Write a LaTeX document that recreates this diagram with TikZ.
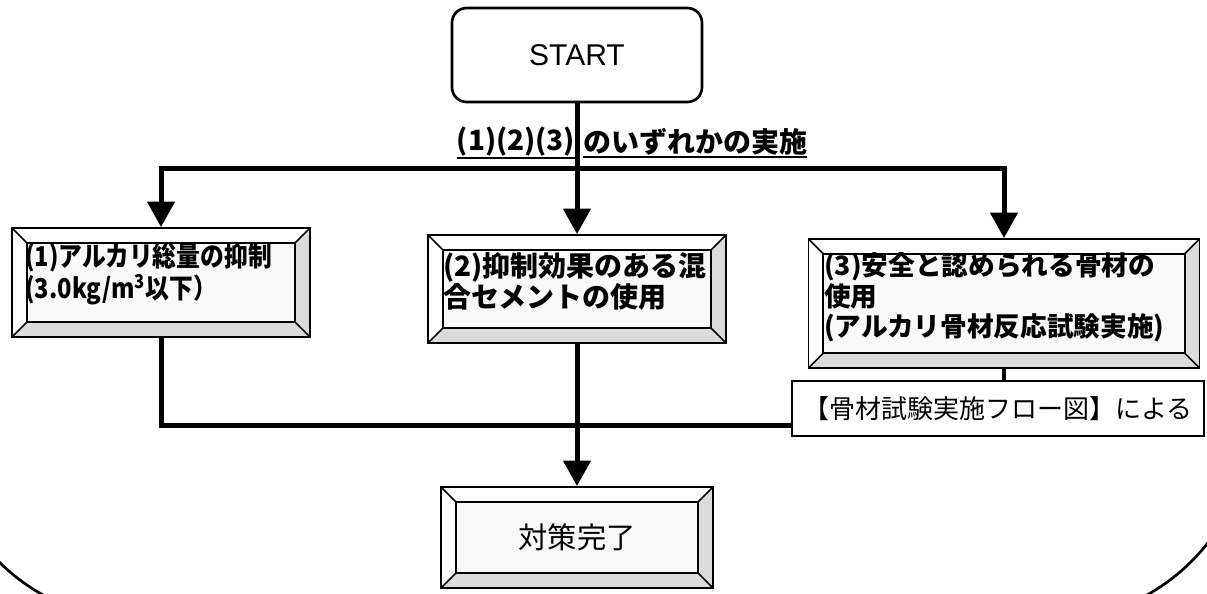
\documentclass[tikz,border=0pt]{standalone}
\usepackage{fontspec}
\setmainfont{Liberation Sans}
\newfontfamily\jp{Noto Sans CJK JP}
\newfontfamily\jpc{Noto Sans CJK JP}[FakeStretch=0.87]
\usetikzlibrary{arrows.meta,calc}
\tikzset{
  conn/.style={line width=3.75pt},
  arr/.style={conn, -{Triangle[width=20pt,length=19pt]}},
  startbox/.style={draw, rounded corners=11pt, line width=2pt, fill=white,
    minimum width=187.5pt, minimum height=70.5pt,
    font=\fontsize{22.5}{24}\selectfont},
  bevel/.style={draw, line width=1.4pt, fill=white, inner sep=0pt,
    path picture={
      \fill[gray!28] (path picture bounding box.south west) -- (path picture bounding box.south east)
        -- ([shift={(-11pt,11pt)}]path picture bounding box.south east)
        -- ([shift={(11pt,11pt)}]path picture bounding box.south west) -- cycle;
      \fill[gray!28] (path picture bounding box.south east) -- (path picture bounding box.north east)
        -- ([shift={(-11pt,-11pt)}]path picture bounding box.north east)
        -- ([shift={(-11pt,11pt)}]path picture bounding box.south east) -- cycle;
      \draw[line width=1.4pt, fill=gray!5] ([shift={(11pt,11pt)}]path picture bounding box.south west)
        rectangle ([shift={(-11pt,-11pt)}]path picture bounding box.north east);
      \draw[line width=1.1pt] (path picture bounding box.south west) -- ++(11pt,11pt);
      \draw[line width=1.1pt] (path picture bounding box.south east) -- ++(-11pt,11pt);
      \draw[line width=1.1pt] (path picture bounding box.north west) -- ++(11pt,-11pt);
      \draw[line width=1.1pt] (path picture bounding box.north east) -- ++(-11pt,-11pt);
    }},
  jptext/.style={font=\jp\bfseries\fontsize{21}{23}\selectfont, align=left, inner sep=0pt, anchor=west},
  lbl/.style={font=\jp\bfseries\fontsize{21}{24}\selectfont, inner sep=0pt},
  labbox/.style={draw, line width=1.4pt, fill=white, minimum width=309pt, minimum height=41.25pt,
    font=\jp\fontsize{19.5}{22}\selectfont},
  uline/.style={line width=1.3pt}
}
\begin{document}
\begin{tikzpicture}[x=0.75pt, y=-0.75pt]
\useasboundingbox (0,0) rectangle (1207,593);
% outer frame (mostly outside the page)
\begin{scope}
  \clip (0,0) rectangle (1207,593);
  \draw[line width=2pt, rounded corners=150pt] (-60,-300) rectangle (1250,620);
\end{scope}

% nodes
\node[startbox] (start) at (577,55) {START};
\node[lbl] (l1) at (516,142) {(1)(2)(3)};
\node[lbl] (l2) at (695,142) {のいずれかの実施};
\draw[uline] ([yshift=-1pt]l1.south west) -- ([yshift=-1pt]l1.south east);
\draw[uline] ([yshift=-1pt]l2.south west) -- ([yshift=-1pt]l2.south east);

\node[bevel, minimum width=223.5pt, minimum height=81.75pt] (b1) at (161,282.5) {};
\node[jptext, font=\jpc\bfseries\fontsize{20.5}{24}\selectfont] (t1) at (25,274) {(1)アルカリ総量の抑制\\(3.0kg/m\textsuperscript{3}以下）};

\node[bevel, minimum width=223.5pt, minimum height=81pt] (b2) at (577,289) {};
\node[jptext] (t2) at (443,281.5) {(2)抑制効果のある混\\合セメントの使用};

\node[bevel, minimum width=293.25pt, minimum height=96.75pt] (b3) at (1004,303.5) {};
\node[jptext, font=\jp\bfseries\fontsize{20}{23}\selectfont] (t3) at (824,297.5) {(3)安全と認められる骨材の\\使用\\(アルカリ骨材反応試験実施)};

\node[labbox] (lab) at (998,408.5) {【骨材試験実施フロー図】による};

\node[bevel, minimum width=204pt, minimum height=75.75pt, font=\jp\fontsize{22}{24}\selectfont] (fin) at (577,537.5) {対策完了};

% connectors
\coordinate (j1) at (577,168);
\coordinate (j2) at (577,425);
\draw[arr] (start.south) -- (b2.north);
\draw[arr] (j1) -| (b1.north);
\draw[arr] (j1) -| (b3.north);
\draw[conn] (b1.south) |- (j2);
\draw[conn] (j2) -- (j2 -| lab.west);
\draw[conn] (b2.south) -- (j2);
\draw[arr] (j2) -- (fin.north);
\draw[line width=3pt] (b3.south) -- (b3.south |- lab.north);
\end{tikzpicture}
\end{document}
